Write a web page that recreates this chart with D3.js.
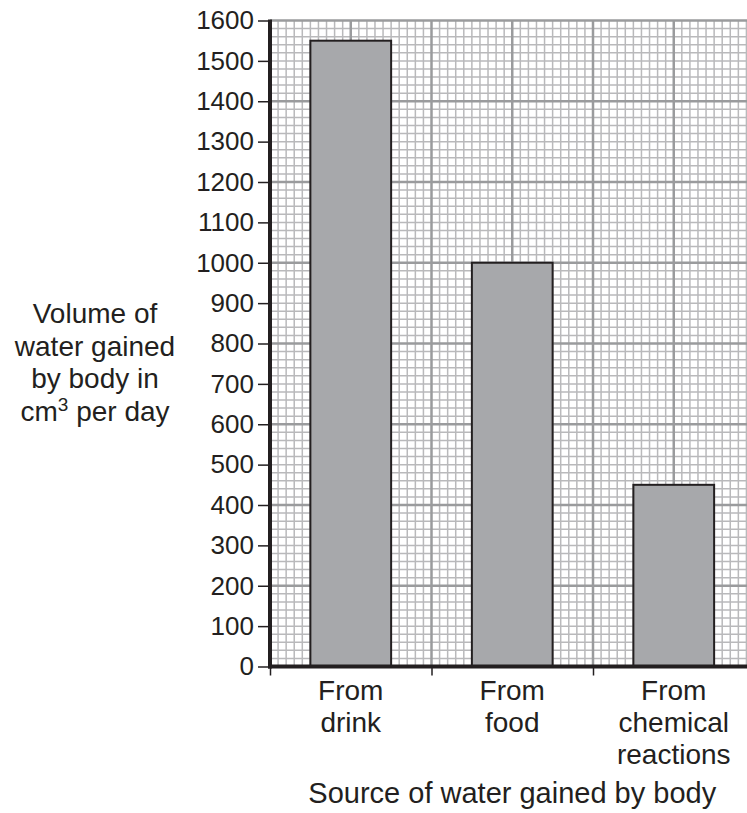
<!DOCTYPE html>
<html>
<head>
<meta charset="utf-8">
<script src="https://cdn.jsdelivr.net/npm/d3@7"></script>
<style>
  html, body { margin: 0; padding: 0; background: #fff; }
  svg { display: block; }
  text { font-family: "Liberation Sans", Arial, Helvetica, sans-serif; fill: #231f20; }
</style>
</head>
<body>
<script>
// ---- data ----
const categories = ["From drink", "From food", "From chemical reactions"];
const categoryLines = [["From", "drink"], ["From", "food"], ["From", "chemical", "reactions"]];
const values = [1550, 1000, 450];
const yTicks = [0, 100, 200, 300, 400, 500, 600, 700, 800, 900, 1000, 1100, 1200, 1300, 1400, 1500, 1600];
const yTitleLines = ["Volume of", "water gained", "by body in"];
const xTitle = "Source of water gained by body";

// ---- layout ----
const W = 747, H = 813;
const plotLeft = 270, plotTop = 20.5, plotBottom = 666.5;
const cell = (plotBottom - plotTop) / 80;           // one small square of the graph paper
const plotRight = plotLeft + cell * 60;              // 3 categories x 20 squares each

const svg = d3.select("body").append("svg").attr("width", W).attr("height", H);

const x = d3.scaleBand().domain(categories).range([plotLeft, plotRight]).padding(0);
const xu = d3.scaleLinear().domain([0, categories.length]).range([plotLeft, plotRight]); // category units
const y = d3.scaleLinear().domain([0, 1600]).range([plotBottom, plotTop]);

// ---- graph paper ----
const grid = svg.append("g");
const minorX = d3.range(0, categories.length + 1e-9, 0.05);
const minorY = d3.range(0, 1600 + 1e-9, 20);
const isMajorX = v => Math.abs(v * 2 - Math.round(v * 2)) < 1e-6;
const isMajorY = v => v % 200 === 0;

grid.selectAll("line.vx").data(minorX.filter(v => !isMajorX(v))).join("line")
  .attr("x1", d => xu(d)).attr("x2", d => xu(d)).attr("y1", y(1600)).attr("y2", y(0))
  .attr("stroke", "#b9b9bb").attr("stroke-width", 1.5);
grid.selectAll("line.hy").data(minorY.filter(v => !isMajorY(v))).join("line")
  .attr("y1", d => y(d)).attr("y2", d => y(d)).attr("x1", xu(0)).attr("x2", xu(3))
  .attr("stroke", "#b9b9bb").attr("stroke-width", 1.5);
grid.selectAll("line.VX").data(minorX.filter(isMajorX)).join("line")
  .attr("x1", d => xu(d)).attr("x2", d => xu(d)).attr("y1", y(1600)).attr("y2", y(0))
  .attr("stroke", "#9a9b9d").attr("stroke-width", 2.5);
grid.selectAll("line.HY").data(minorY.filter(isMajorY)).join("line")
  .attr("y1", d => y(d)).attr("y2", d => y(d)).attr("x1", xu(0)).attr("x2", xu(3))
  .attr("stroke", "#9a9b9d").attr("stroke-width", 2.5);

// ---- bars ----
svg.append("g").selectAll("rect").data(values).join("rect")
  .attr("x", (d, i) => x(categories[i]) + x.bandwidth() * 0.25)
  .attr("width", x.bandwidth() * 0.5)
  .attr("y", d => y(d))
  .attr("height", d => y(0) - y(d))
  .attr("fill", "#a7a8ab")
  .attr("stroke", "#231f20")
  .attr("stroke-width", 2);

// ---- y axis ----
const yAxis = svg.append("g").attr("transform", `translate(${plotLeft},0)`)
  .call(d3.axisLeft(y).tickValues(yTicks).tickSize(12).tickPadding(4).tickFormat(d3.format("d")));
yAxis.select(".domain").remove();
yAxis.selectAll(".tick line").attr("stroke", "#231f20").attr("stroke-width", 1.5);
yAxis.selectAll(".tick text").style("font-size", "26px").attr("fill", "#231f20");

svg.append("line").attr("x1", plotLeft).attr("x2", plotLeft).attr("y1", y(1600) - 1).attr("y2", y(0) + 2)
  .attr("stroke", "#231f20").attr("stroke-width", 4);

// ---- x axis ----
const xAxis = svg.append("g").attr("transform", `translate(0,${plotBottom})`)
  .call(d3.axisBottom(xu).tickValues(d3.range(0, categories.length + 1)).tickSize(9).tickFormat(""));
xAxis.select(".domain").remove();
xAxis.selectAll(".tick line").attr("stroke", "#231f20").attr("stroke-width", 1.5);
svg.append("line").attr("x1", plotLeft - 2).attr("x2", plotRight).attr("y1", y(0)).attr("y2", y(0))
  .attr("stroke", "#231f20").attr("stroke-width", 4);

// category labels
const labels = svg.append("g");
categories.forEach((c, i) => {
  const cx = x(c) + x.bandwidth() / 2;
  const t = labels.append("text")
    .attr("x", cx)
    .attr("y", 699.5)
    .attr("text-anchor", "middle")
    .style("font-size", "28px");
  categoryLines[i].forEach((ln, j) => {
    t.append("tspan").attr("x", cx).attr("dy", j === 0 ? 0 : 32).text(ln);
  });
});

// x title
svg.append("text").attr("x", (plotLeft + plotRight) / 2).attr("y", 803)
  .attr("text-anchor", "middle").style("font-size", "29px").text(xTitle);

// y title
const yt = svg.append("text").attr("x", 95).attr("y", 323)
  .attr("text-anchor", "middle").style("font-size", "28px");
yTitleLines.forEach((ln, j) => {
  yt.append("tspan").attr("x", 95).attr("dy", j === 0 ? 0 : 32.5).text(ln);
});
const lastLine = svg.append("text").attr("x", 95).attr("y", 323 + 3 * 32.5)
  .attr("text-anchor", "middle").style("font-size", "28px");
lastLine.append("tspan").text("cm");
lastLine.append("tspan").style("font-size", "19px").attr("dy", -10).text("3");
lastLine.append("tspan").attr("dy", 10).text(" per day");
</script>
</body>
</html>
